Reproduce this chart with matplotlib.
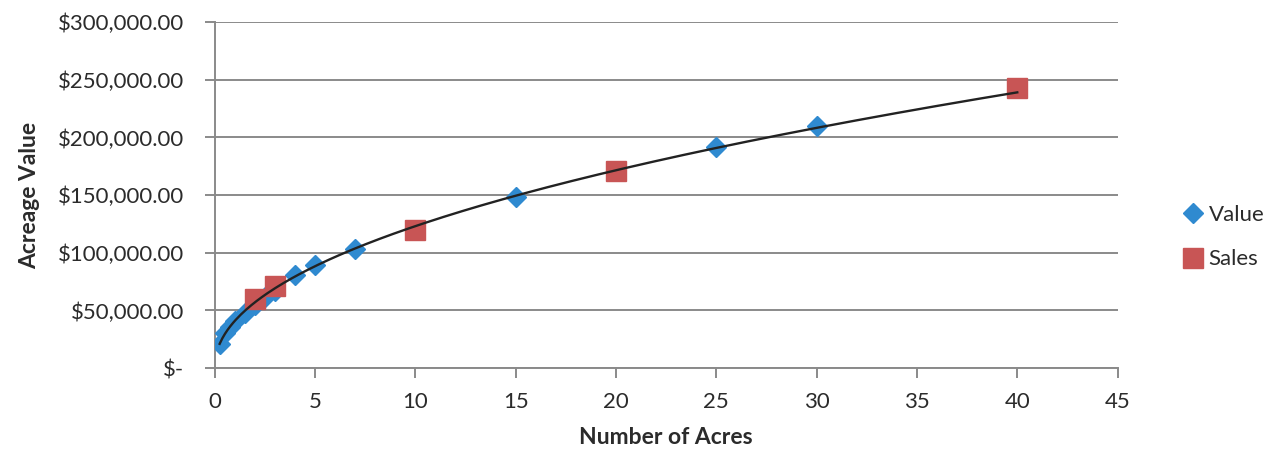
import numpy as np
import matplotlib
matplotlib.use("Agg")
import matplotlib.pyplot as plt
from matplotlib.ticker import FuncFormatter


# ─── Data ─────────────────────────────────────────────────────────────────────

value_acres  = [0.25, 0.5, 0.75, 1, 1.5, 2, 2.5, 3, 4, 5, 7, 15, 25, 30]
value_prices = [21000, 30000, 36000, 40500, 48000, 55000, 62000, 67000,
                81000, 89000, 103000, 148000, 192000, 210000]

sales_acres  = [2, 3, 10, 20, 40]
sales_prices = [60000, 71000, 120000, 171000, 243000]

x_ticks = [0, 5, 10, 15, 20, 25, 30, 35, 40, 45]
y_ticks = [0, 50000, 100000, 150000, 200000, 250000, 300000]

BLUE = "#2f8ad0"
RED  = "#c85555"
GRID = "#8a8a8a"
TEXT = "#2b2b2b"

plt.rcParams["font.family"] = ["Lato", "DejaVu Sans"]


def money(v, _pos):
    if v == 0:
        return "$-"
    return f"${v:,.2f}"


# power trend line fitted to all points (Excel-style)
all_x = np.array(value_acres + sales_acres, dtype=float)
all_y = np.array(value_prices + sales_prices, dtype=float)
b, log_a = np.polyfit(np.log(all_x), np.log(all_y), 1)
trend_x = np.linspace(min(all_x), max(all_x), 300)
trend_y = np.exp(log_a) * trend_x ** b

fig = plt.figure(figsize=(12.7, 4.5), dpi=100)
ax = fig.add_axes([0.169, 0.182, 0.711, 0.769])

ax.plot(trend_x, trend_y, color="#222222", lw=1.7, zorder=4)
ax.plot(value_acres, value_prices, ls="none", marker="D", ms=10,
        color=BLUE, mec=BLUE, label="Value", zorder=3)
ax.plot(sales_acres, sales_prices, ls="none", marker="s", ms=14,
        color=RED, mec=RED, label="Sales", zorder=3)

ax.set_xlim(0, 45)
ax.set_ylim(0, 300000)
ax.set_xticks(x_ticks)
ax.set_yticks(y_ticks)
ax.yaxis.set_major_formatter(FuncFormatter(money))

ax.grid(axis="y", color=GRID, lw=1.4)
ax.set_axisbelow(True)
for side in ("top", "right"):
    ax.spines[side].set_visible(False)
for side in ("left", "bottom"):
    ax.spines[side].set_color(GRID)
    ax.spines[side].set_linewidth(1.4)

ax.tick_params(axis="both", direction="out", length=7, width=1.4,
               color=GRID, labelsize=16, labelcolor=TEXT)
ax.tick_params(axis="y", pad=15)
ax.tick_params(axis="x", pad=10)

ax.set_xlabel("Number of Acres", fontsize=16.5, fontweight="bold",
              color=TEXT, labelpad=11)
ax.set_ylabel("Acreage Value", fontsize=16.5, fontweight="bold",
              color=TEXT, labelpad=13)

leg = fig.legend(loc="center left", bbox_to_anchor=(0.915, 0.473),
                 frameon=False, fontsize=16, handletextpad=0.2,
                 labelspacing=1.1, handlelength=1.0)
for t in leg.get_texts():
    t.set_color(TEXT)

fig.savefig("out.png", dpi=100)
